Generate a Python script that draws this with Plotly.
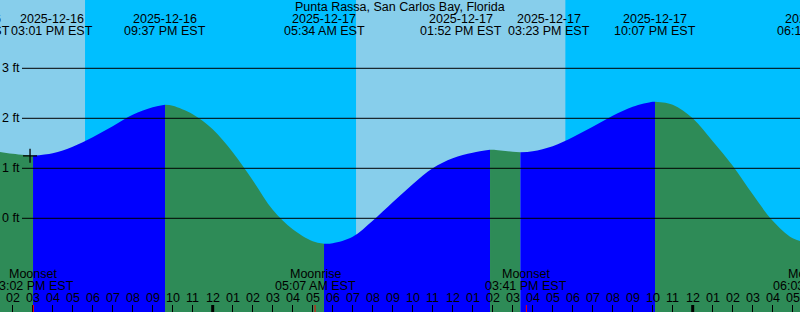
import pandas as pd
import plotly.graph_objects as go

# ---------------- data ----------------
station = "Punta Rassa, San Carlos Bay, Florida"

reading_times = [
    "2025-12-16 12:47", "2025-12-16 13:00", "2025-12-16 14:00", "2025-12-16 15:00",
    "2025-12-16 15:01", "2025-12-16 16:00", "2025-12-16 17:00", "2025-12-16 18:00",
    "2025-12-16 19:00", "2025-12-16 20:00", "2025-12-16 21:00", "2025-12-16 21:37",
    "2025-12-16 22:00", "2025-12-16 23:00", "2025-12-17 00:00", "2025-12-17 01:00",
    "2025-12-17 02:00", "2025-12-17 03:00", "2025-12-17 04:00", "2025-12-17 05:00",
    "2025-12-17 05:34", "2025-12-17 06:00", "2025-12-17 07:00", "2025-12-17 08:00",
    "2025-12-17 09:00", "2025-12-17 10:00", "2025-12-17 11:00", "2025-12-17 12:00",
    "2025-12-17 13:00", "2025-12-17 13:52", "2025-12-17 14:00", "2025-12-17 15:00",
    "2025-12-17 15:23", "2025-12-17 16:00", "2025-12-17 17:00", "2025-12-17 18:00",
    "2025-12-17 19:00", "2025-12-17 20:00", "2025-12-17 21:00", "2025-12-17 22:00",
    "2025-12-17 22:07", "2025-12-17 23:00", "2025-12-18 00:00", "2025-12-18 01:00",
    "2025-12-18 02:00", "2025-12-18 03:00", "2025-12-18 04:00", "2025-12-18 05:00",
    "2025-12-18 06:00", "2025-12-18 06:13",
]
reading_levels = [
    1.36, 1.35, 1.29, 1.25,
    1.25, 1.30, 1.43, 1.62,
    1.84, 2.07, 2.22, 2.27,
    2.25, 2.08, 1.78, 1.32,
    0.76, 0.17, -0.22, -0.46,
    -0.51, -0.50, -0.37, -0.05,
    0.32, 0.68, 1.00, 1.20,
    1.31, 1.37, 1.37, 1.33,
    1.32, 1.34, 1.44, 1.62,
    1.83, 2.05, 2.23, 2.33,
    2.33, 2.27, 2.00, 1.54,
    1.05, 0.48, -0.05, -0.40,
    -0.51, -0.52,
]

event_times = ["2025-12-16 12:47", "2025-12-16 15:01", "2025-12-16 21:37", "2025-12-17 05:34",
               "2025-12-17 13:52", "2025-12-17 15:23", "2025-12-17 22:07", "2025-12-18 06:13"]
event_kinds = ["high", "low", "high", "low", "high", "low", "high", "low"]

moon_times = ["2025-12-16 15:02", "2025-12-17 05:07", "2025-12-17 15:41", "2025-12-18 06:03"]
moon_kinds = ["Moonset", "Moonrise", "Moonset", "Moonrise"]

day_starts = ["2025-12-16 07:09", "2025-12-17 07:10"]
day_ends = ["2025-12-16 17:37", "2025-12-17 17:38"]

level_ticks = [0, 1, 2, 3]
level_tick_labels = ["0 ft", "1 ft", "2 ft", "3 ft"]

now_time = "2025-12-16 14:52"
now_level = 1.25

# ---------------- style ----------------
W, H = 800, 312
DAY = "#87CEEB"
NIGHT = "#00BFFF"
FLOOD = "#0000FF"
EBB = "#2E8B57"
FONT = "Liberation Sans, Arial, sans-serif"
FS = 12.5
label_shift = [-19.5, 19, 0, 0, -29, 29, 0, 0]
x_range = ["2025-12-16 13:21:54", "2025-12-18 05:21:54"]
y_range = [-1.874, 4.366]

xr0, xr1 = pd.Timestamp(x_range[0]), pd.Timestamp(x_range[1])
px_per_sec = W / (xr1 - xr0).total_seconds()


def py(px_from_top):
    return 1 - px_from_top / H


def place(t, shift=0):
    """Anchor a label at time t; labels off the axis range are anchored at the
    range edge and pushed out by the matching pixel offset so they stay drawn."""
    t = pd.Timestamp(t)
    if t < xr0:
        return xr0, shift + (t - xr0).total_seconds() * px_per_sec
    if t > xr1:
        return xr1, shift + (t - xr1).total_seconds() * px_per_sec
    return t, shift


t_read = pd.to_datetime(pd.Series(reading_times))
lv = pd.Series(reading_levels)
t_ev = pd.to_datetime(pd.Series(event_times))

fig = go.Figure()

# tide fill segments between consecutive extrema
for i in range(len(t_ev) - 1):
    a, b = t_ev[i], t_ev[i + 1]
    m = (t_read >= a) & (t_read <= b)
    xs = t_read[m]
    ys = lv[m]
    color = FLOOD if event_kinds[i] == "low" else EBB
    fig.add_trace(go.Scatter(x=[a, b], y=[-5, -5], mode="lines",
                             line=dict(width=0, color=color), showlegend=False,
                             hoverinfo="skip"))
    fig.add_trace(go.Scatter(x=xs, y=ys, mode="lines", fill="tonexty",
                             fillcolor=color,
                             line=dict(width=0, color=color, shape="spline", smoothing=1),
                             showlegend=False, hoverinfo="skip"))

# current-time marker
fig.add_trace(go.Scatter(x=[now_time], y=[now_level], mode="markers",
                         marker=dict(symbol="cross-thin", size=10,
                                     line=dict(width=1.3, color="black")),
                         showlegend=False, hoverinfo="skip"))

shapes = []
for s, e in zip(day_starts, day_ends):
    shapes.append(dict(type="rect", xref="x", yref="paper", x0=s, x1=e, y0=0, y1=1,
                       fillcolor=DAY, line=dict(width=0), layer="below"))
for v in level_ticks:
    shapes.append(dict(type="line", xref="paper", yref="y", x0=22 / W, x1=1, y0=v, y1=v,
                       line=dict(color="black", width=1), layer="above"))
for d in pd.date_range("2025-12-17", "2025-12-18", freq="D"):
    shapes.append(dict(type="line", xref="x", yref="paper", x0=d, x1=d, y0=0, y1=7 / H,
                       line=dict(color="black", width=3), layer="above"))
for mt in moon_times:
    if xr0 <= pd.Timestamp(mt) <= xr1:
        shapes.append(dict(type="line", xref="x", yref="paper", x0=mt, x1=mt, y0=0, y1=7 / H,
                           line=dict(color="red", width=1), layer="above"))

txt_font = dict(family=FONT, size=FS, color="black")
ann = []


def add_text(text, t, ypx, shift=0):
    x, xs = place(t, shift)
    ann.append(dict(text=text, x=x, xref="x", y=py(ypx), yref="paper", xshift=xs,
                    showarrow=False, xanchor="center", yanchor="middle",
                    borderpad=0, font=txt_font))


ann.append(dict(text=station, x=0.5, xref="paper", y=py(7), yref="paper",
                showarrow=False, xanchor="center", yanchor="middle", borderpad=0,
                font=txt_font))
for t, sh in zip(t_ev, label_shift):
    add_text(t.strftime("%Y-%m-%d"), t, 19, sh)
    add_text(t.strftime("%I:%M %p EST"), t, 31, sh)
for mt, mk in zip(pd.to_datetime(pd.Series(moon_times)), moon_kinds):
    add_text(mk, mt, 274)
    add_text(mt.strftime("%I:%M %p EST"), mt, 286)
for h in pd.date_range("2025-12-16 14:00", "2025-12-18 05:00", freq="h"):
    add_text(h.strftime("%I"), h, 298)
for v, lab in zip(level_ticks, level_tick_labels):
    ann.append(dict(text=lab, x=0, xref="paper", y=v, yref="y", xshift=1,
                    showarrow=False, xanchor="left", yanchor="middle", borderpad=0,
                    font=txt_font))

fig.update_layout(
    width=W, height=H,
    margin=dict(l=0, r=0, t=0, b=0),
    paper_bgcolor=NIGHT, plot_bgcolor=NIGHT,
    shapes=shapes, annotations=ann,
    xaxis=dict(type="date", range=x_range, showgrid=False, zeroline=False, showline=False,
               ticks="inside", ticklen=7, tickwidth=1, tickcolor="black",
               tick0="2025-12-16 00:00", dtick=3600000, showticklabels=False,
               fixedrange=True),
    yaxis=dict(range=y_range, showgrid=False, zeroline=False, showline=False,
               showticklabels=False, ticks="", fixedrange=True),
    hovermode=False,
)

fig.write_html("out.html", config={"displayModeBar": False})
